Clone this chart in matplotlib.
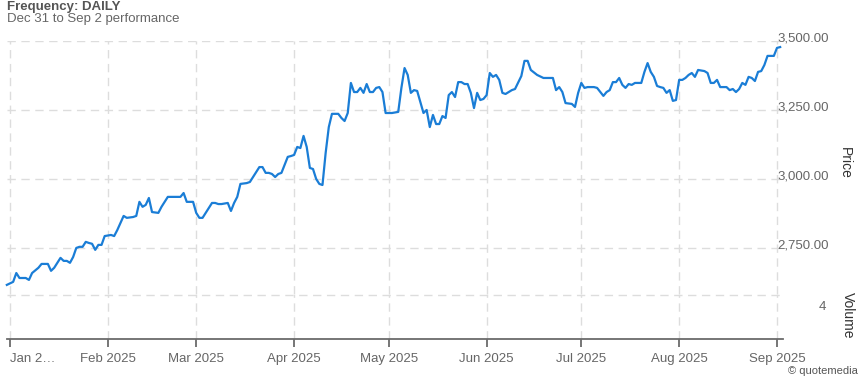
import matplotlib.pyplot as plt
import matplotlib.dates as mdates
import matplotlib.transforms as mtransforms
import pandas as pd

plt.rcParams['font.family'] = ['Liberation Sans', 'DejaVu Sans']

# daily closes
dates = [
    '2024-12-31',
    '2025-01-02', '2025-01-03', '2025-01-04', '2025-01-06', '2025-01-07', '2025-01-08', '2025-01-10',
    '2025-01-11', '2025-01-13', '2025-01-14', '2025-01-15', '2025-01-17', '2025-01-18', '2025-01-19',
    '2025-01-20', '2025-01-21', '2025-01-22', '2025-01-23', '2025-01-24', '2025-01-25', '2025-01-26',
    '2025-01-27', '2025-01-28', '2025-01-29', '2025-01-30', '2025-01-31',
    '2025-02-02', '2025-02-03', '2025-02-04', '2025-02-06', '2025-02-07', '2025-02-09', '2025-02-10',
    '2025-02-11', '2025-02-12', '2025-02-13', '2025-02-14', '2025-02-15', '2025-02-17', '2025-02-18',
    '2025-02-20', '2025-02-21', '2025-02-23', '2025-02-24', '2025-02-25', '2025-02-26', '2025-02-28',
    '2025-03-01', '2025-03-02', '2025-03-03', '2025-03-04', '2025-03-06', '2025-03-07', '2025-03-08',
    '2025-03-09', '2025-03-11', '2025-03-12', '2025-03-13', '2025-03-14', '2025-03-15', '2025-03-17',
    '2025-03-18', '2025-03-19', '2025-03-21', '2025-03-22', '2025-03-23', '2025-03-24', '2025-03-25',
    '2025-03-26', '2025-03-27', '2025-03-28', '2025-03-30', '2025-03-31',
    '2025-04-01', '2025-04-02', '2025-04-03', '2025-04-04', '2025-04-05', '2025-04-06', '2025-04-07',
    '2025-04-08', '2025-04-09', '2025-04-10', '2025-04-11', '2025-04-12', '2025-04-13', '2025-04-15',
    '2025-04-16', '2025-04-17', '2025-04-18', '2025-04-19', '2025-04-20', '2025-04-21', '2025-04-22',
    '2025-04-23', '2025-04-24', '2025-04-25', '2025-04-26', '2025-04-27', '2025-04-28', '2025-04-29',
    '2025-04-30',
    '2025-05-02', '2025-05-04', '2025-05-05', '2025-05-06', '2025-05-07', '2025-05-08', '2025-05-09',
    '2025-05-10', '2025-05-12', '2025-05-13', '2025-05-14', '2025-05-15', '2025-05-16', '2025-05-17',
    '2025-05-18', '2025-05-19', '2025-05-20', '2025-05-21', '2025-05-22', '2025-05-23', '2025-05-24',
    '2025-05-25', '2025-05-26', '2025-05-27', '2025-05-28', '2025-05-29', '2025-05-30', '2025-05-31',
    '2025-06-01', '2025-06-02', '2025-06-03', '2025-06-04', '2025-06-05', '2025-06-06', '2025-06-07',
    '2025-06-09', '2025-06-10', '2025-06-12', '2025-06-13', '2025-06-14', '2025-06-15', '2025-06-17',
    '2025-06-19', '2025-06-21', '2025-06-22', '2025-06-23', '2025-06-24', '2025-06-25', '2025-06-26',
    '2025-06-28', '2025-06-29', '2025-06-30',
    '2025-07-01', '2025-07-02', '2025-07-03', '2025-07-05', '2025-07-06', '2025-07-08', '2025-07-09',
    '2025-07-10', '2025-07-11', '2025-07-12', '2025-07-13', '2025-07-14', '2025-07-15', '2025-07-16',
    '2025-07-17', '2025-07-18', '2025-07-20', '2025-07-21', '2025-07-22', '2025-07-23', '2025-07-24',
    '2025-07-25', '2025-07-26', '2025-07-27', '2025-07-28', '2025-07-29', '2025-07-30', '2025-07-31',
    '2025-08-01', '2025-08-02', '2025-08-03', '2025-08-04', '2025-08-05', '2025-08-06', '2025-08-07',
    '2025-08-09', '2025-08-10', '2025-08-11', '2025-08-12', '2025-08-13', '2025-08-14', '2025-08-16',
    '2025-08-17', '2025-08-18', '2025-08-19', '2025-08-20', '2025-08-21', '2025-08-22', '2025-08-23',
    '2025-08-24', '2025-08-25', '2025-08-26', '2025-08-27', '2025-08-28', '2025-08-29', '2025-08-31',
    '2025-09-01', '2025-09-02',
]
prices = [
    2616,
    2627, 2659, 2641, 2641, 2634, 2659, 2678,
    2692, 2692, 2667, 2678, 2714, 2703, 2703,
    2696, 2717, 2750, 2754, 2754, 2772, 2768,
    2765, 2743, 2761, 2761, 2793,
    2797, 2793, 2815, 2866, 2859, 2862, 2866,
    2917, 2899, 2906, 2931, 2880, 2877, 2899,
    2935, 2935, 2935, 2935, 2949, 2917, 2917,
    2877, 2859, 2859, 2877, 2913, 2913, 2909,
    2909, 2913, 2884, 2913, 2935, 2982, 2985,
    2989, 3007, 3043, 3043, 3022, 3022, 3018,
    3007, 3018, 3022, 3080, 3083,
    3087, 3116, 3112, 3156, 3116, 3040, 3036,
    3000, 2982, 2978, 3094, 3188, 3236, 3236,
    3221, 3210, 3239, 3348, 3315, 3315, 3330,
    3312, 3344, 3315, 3315, 3330, 3333, 3315,
    3239,
    3239, 3243, 3330, 3402, 3377, 3312, 3322,
    3319, 3239, 3250, 3188, 3232, 3199, 3199,
    3228, 3221, 3304, 3315, 3297, 3351, 3351,
    3344, 3344, 3312, 3257, 3312, 3286, 3290,
    3304, 3384, 3370, 3377, 3359, 3312, 3308,
    3322, 3326, 3373, 3428, 3428, 3395, 3377,
    3366, 3366, 3366, 3322, 3333, 3315, 3275,
    3272, 3261, 3312,
    3348, 3330, 3333, 3333, 3330, 3301, 3315,
    3322, 3351, 3351, 3366, 3341, 3330, 3344,
    3341, 3348, 3348, 3388, 3420, 3388, 3370,
    3337, 3333, 3330, 3312, 3322, 3283, 3286,
    3359, 3359, 3366, 3377, 3384, 3370, 3395,
    3391, 3384, 3348, 3348, 3359, 3333, 3333,
    3322, 3326, 3315, 3326, 3348, 3341, 3370,
    3366, 3355, 3388, 3391, 3413, 3446, 3446,
    3475, 3478,
]

month_ticks = ['2025-01-01', '2025-02-01', '2025-03-01', '2025-04-01', '2025-05-01',
               '2025-06-01', '2025-07-01', '2025-08-01', '2025-09-01']
month_labels = ['Jan 2\u2026', 'Feb 2025', 'Mar 2025', 'Apr 2025', 'May 2025',
                'Jun 2025', 'Jul 2025', 'Aug 2025', 'Sep 2025']
price_ticks = [2750, 3000, 3250, 3500]
price_labels = ['2,750.00', '3,000.00', '3,250.00', '3,500.00']
volume_ticks = [4]

x = pd.to_datetime(dates)
tick_x = pd.to_datetime(month_ticks)

W, H = 860, 378
fig = plt.figure(figsize=(W / 100, H / 100), dpi=100)
ax = fig.add_axes([7 / W, 1 - 294 / H, 776 / W, 253 / H])
vax = fig.add_axes([7 / W, 1 - 339 / H, 776 / W, 45 / H], sharex=ax)

grid_kw = dict(color='#dddddd', linewidth=1.0, linestyle=(0, (6, 4)))
label_color = '#666666'

ax.plot(x, prices, color='#1a7dd6', linewidth=1.6, clip_on=False, zorder=3)
ax.set_ylim(2583, 3500)
ax.set_xlim(mdates.date2num(tick_x[0]) - 0.95, mdates.date2num(tick_x[-1]) + 1.9)
ax.yaxis.tick_right()
ax.set_yticks(price_ticks)
ax.set_yticklabels(price_labels)
ax.tick_params(axis='y', length=0, pad=-4, labelsize=9.5, labelcolor=label_color)
ax.tick_params(axis='x', length=0, labelbottom=False)
ax.set_xticks(tick_x)
ax.grid(True, **grid_kw)
for s in ax.spines.values():
    s.set_visible(False)
up = mtransforms.ScaledTranslation(0, 4 / 100, fig.dpi_scale_trans)
for t in ax.get_yticklabels():
    t.set_transform(t.get_transform() + up)

vax.set_ylim(0, 4.1)
vax.yaxis.tick_right()
vax.set_yticks(volume_ticks)
vax.tick_params(axis='y', length=0, pad=26, labelsize=9.5, labelcolor=label_color)
down = mtransforms.ScaledTranslation(0, -10 / 100, fig.dpi_scale_trans)
for t in vax.get_yticklabels():
    t.set_transform(t.get_transform() + down)
vax.set_xticks(tick_x)
vax.set_xticklabels(month_labels)
vax.get_xticklabels()[0].set_ha('left')
vax.tick_params(axis='x', direction='out', length=6, width=1.3, color='#6b6b6b',
                labelsize=9.5, labelcolor=label_color, pad=4)
vax.grid(True, **grid_kw)
for name, s in vax.spines.items():
    s.set_visible(name == 'bottom')
vax.spines['bottom'].set_color('#6b6b6b')
vax.spines['bottom'].set_linewidth(1.3)

fig.text(7 / W, 1 - 7 / H, 'Frequency: DAILY', fontsize=9.5, fontweight='bold',
         color='#555555', va='center')
fig.text(7 / W, 1 - 19 / H, 'Dec 31 to Sep 2 performance', fontsize=9.5,
         color='#666666', va='center')
fig.text(845 / W, 1 - 163 / H, 'Price', fontsize=10, color='#333333', rotation=270,
         ha='center', va='center')
fig.text(848 / W, 1 - 315 / H, 'Volume', fontsize=10, color='#333333', rotation=270,
         ha='center', va='center')
fig.text(858 / W, 1 - 371 / H, '\u00a9 quotemedia', fontsize=8, color='#555555',
         ha='right', va='center')

fig.savefig('out.png', dpi=100)
